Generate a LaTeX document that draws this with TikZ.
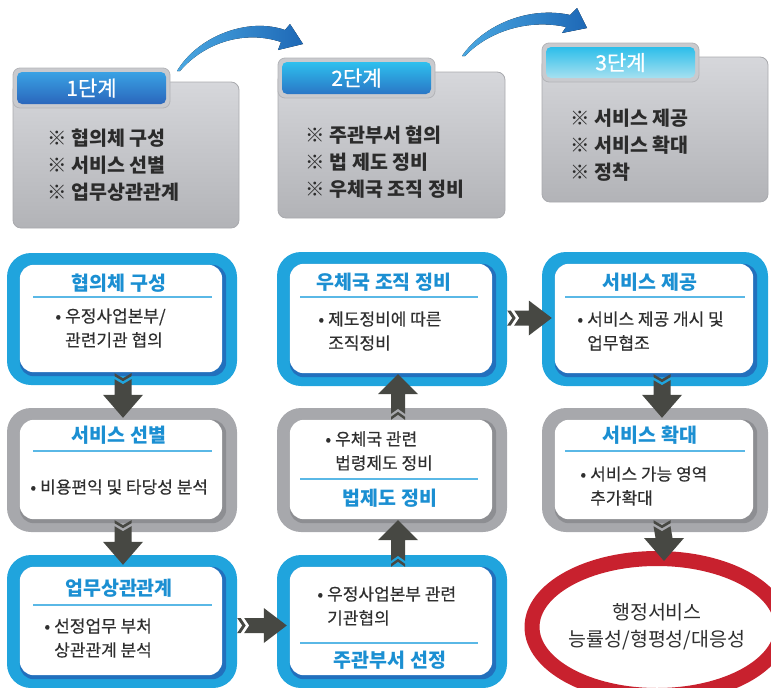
\documentclass[tikz,border=0pt]{standalone}
\usepackage{fontspec}
\setmainfont{Noto Sans CJK KR}
\newfontfamily\bodyfont[FakeBold=0.35]{Noto Sans CJK KR}
\newfontfamily\tabfont[FakeBold=0.6]{Noto Sans CJK KR}
\usetikzlibrary{calc,shapes.geometric}
\definecolor{bluemain}{HTML}{20A4DD}
\definecolor{bluedark}{HTML}{2270BD}
\definecolor{graymain}{HTML}{A7A8AC}
\definecolor{graydark}{HTML}{8D8E92}
\definecolor{titleblue}{HTML}{1B8FD2}
\definecolor{sepblue}{HTML}{5AB8E6}
\definecolor{bodytext}{HTML}{2F2F2F}
\definecolor{blkarrow}{HTML}{474843}
\definecolor{goalred}{HTML}{C8212E}
\definecolor{stagetop}{HTML}{D6D7DB}
\definecolor{stagebot}{HTML}{B2B3B7}
\definecolor{stageline}{HTML}{A9AAAE}
\definecolor{tabgray}{HTML}{C9CACE}
\definecolor{tabline}{HTML}{B3B4B8}
\definecolor{curvelight}{HTML}{4AA8E2}
\definecolor{curvedark}{HTML}{1E68B6}
\definecolor{stagetext}{HTML}{2B2B2B}
\definecolor{tabAtop}{HTML}{3AA2E4}
\definecolor{tabAbot}{HTML}{2A66BC}
\definecolor{tabBtop}{HTML}{2EC0EE}
\definecolor{tabBbot}{HTML}{2A76C6}
\definecolor{tabCtop}{HTML}{2CBEEA}
\definecolor{tabCbot}{HTML}{A6E0F0}

\newcommand\flowbox[7]{%
  \node[inner sep=0pt, minimum width=#4, minimum height=#5, fill=#6, rounded corners=24] (#1) at (#2,#3) {};
  \fill[#7, rounded corners=14] ($(#1.north west)+(13,12)$) rectangle ($(#1.south east)+(-11,-9)$);
  \fill[white, rounded corners=14] ($(#1.north west)+(13,12)$) rectangle ($(#1.south east)+(-15,-13)$);
}
\newcommand\arrdown[3]{%
  \coordinate (s) at ($(#1.south)+(#3,0)$);
  \coordinate (e) at ($(#2.north)+(#3,0)$);
  \fill[blkarrow] ($(s)+(-8.5,-12)$) -- ($(s)+(0,-7)$) -- ($(s)+(8.5,-12)$) -- ($(s)+(8.5,-9)$) -- ($(s)+(0,-4)$) -- ($(s)+(-8.5,-9)$) -- cycle;
  \fill[blkarrow] ($(s)+(-8.5,-6)$) -- ($(s)+(0,-1)$) -- ($(s)+(8.5,-6)$) -- ($(e)+(8.5,-13)$) -- ($(e)+(20,-13)$) -- ($(e)+(0,10)$) -- ($(e)+(-20,-13)$) -- ($(e)+(-8.5,-13)$) -- cycle;
}
\newcommand\arrup[3]{%
  \coordinate (s) at ($(#1.north)+(#3,0)$);
  \coordinate (e) at ($(#2.south)+(#3,0)$);
  \fill[blkarrow] ($(s)+(-7,12)$) -- ($(s)+(0,7)$) -- ($(s)+(7,12)$) -- ($(s)+(7,9)$) -- ($(s)+(0,4)$) -- ($(s)+(-7,9)$) -- cycle;
  \fill[blkarrow] ($(s)+(-7,6)$) -- ($(s)+(0,1)$) -- ($(s)+(7,6)$) -- ($(e)+(7,8)$) -- ($(e)+(20,8)$) -- ($(e)+(0,-12)$) -- ($(e)+(-20,8)$) -- ($(e)+(-7,8)$) -- cycle;
}
\newcommand\arrright[3]{%
  \coordinate (s) at ($(#1.east)+(0,#3)$);
  \coordinate (e) at ($(#2.west)+(0,#3)$);
  \fill[blkarrow] ($(s)+(0,-7.5)$) -- ($(s)+(5,0)$) -- ($(s)+(0,7.5)$) -- ($(s)+(3.5,7.5)$) -- ($(s)+(8.5,0)$) -- ($(s)+(3.5,-7.5)$) -- cycle;
  \fill[blkarrow] ($(s)+(7,-7.5)$) -- ($(s)+(12,0)$) -- ($(s)+(7,7.5)$) -- ($(e)+(-13,7.5)$) -- ($(e)+(-13,17.5)$) -- ($(e)+(10,0)$) -- ($(e)+(-13,-17.5)$) -- ($(e)+(-13,-7.5)$) -- cycle;
}

\begin{document}
\begin{tikzpicture}[x=1pt,y=-1pt,
  stagebody/.style={inner sep=0pt, rounded corners=8, top color=stagetop, bottom color=stagebot, draw=stageline, line width=0.8pt},
  tabouter/.style={inner sep=0pt, rounded corners=7, fill=tabgray, draw=tabline, line width=0.8pt, minimum width=157, minimum height=40},
  tabinner/.style={inner sep=0pt, rounded corners=5, minimum width=149, minimum height=32, text=white, font=\tabfont\fontsize{21}{22}\selectfont},
  stageitems/.style={anchor=west, align=left, inner sep=0pt, text=stagetext, font=\fontsize{19.5}{27}\selectfont\bfseries},
  ftitle/.style={inner sep=0pt, text=titleblue, font=\fontsize{19.5}{21}\selectfont\bfseries},
  fbody/.style={anchor=west, align=left, inner sep=0pt, text=bodytext, font=\bodyfont\fontsize{17}{24}\selectfont},
  sepline/.style={draw=sepblue, line width=1.2pt}]
\useasboundingbox (0,0) rectangle (771,688);
\clip (0,0) rectangle (771,688);

% ---------- stage boxes ----------
\node[stagebody, minimum width=226, minimum height=146] (s1) at (126,155) {};
\node[tabouter] (t1o) at (91.5,88) {};
\node[tabinner, top color=tabAtop, bottom color=tabAbot] (t1) at (t1o) {1단계};
\node[stageitems] (s1txt) at (47,165) {※\hspace{5pt}협의체 구성\\※\hspace{5pt}서비스 선별\\※\hspace{5pt}업무상관관계};

\node[stagebody, minimum width=227, minimum height=146] (s2) at (391.5,145) {};
\node[tabouter] (t2o) at (356.5,78) {};
\node[tabinner, top color=tabBtop, bottom color=tabBbot] (t2) at (t2o) {2단계};
\node[stageitems] (s2txt) at (305,162) {※\hspace{5pt}주관부서 협의\\※\hspace{5pt}법 제도 정비\\※\hspace{5pt}우체국 조직 정비};

\node[stagebody, minimum width=226, minimum height=145] (s3) at (655,129.5) {};
\node[tabouter, minimum height=39] (t3o) at (620.5,62.5) {};
\node[tabinner, minimum height=31, top color=tabCtop, bottom color=tabCbot] (t3) at (t3o) {3단계};
\node[stageitems] (s3txt) at (570,145) {※\hspace{5pt}서비스 제공\\※\hspace{5pt}서비스 확대\\※\hspace{5pt}정착};

% ---------- curved arrows ----------
\fill[left color=curvelight, right color=curvedark]
  (177,71) .. controls (198,36) and (248,17) .. (285,30) -- (290,24) -- (303,44) -- (278,50) -- (281,42)
  .. controls (245,30) and (205,42) .. (180,71) -- cycle;
\fill[left color=curvelight, right color=curvedark]
  (462,56) .. controls (484,24) and (530,6) .. (570,15) -- (577,8) -- (587,28) -- (562,33) -- (566,27)
  .. controls (530,19) and (490,30) .. (465,56) -- cycle;

% ---------- flow boxes ----------
\flowbox{A}{122}{319}{230}{132}{bluemain}{bluedark}
\flowbox{B}{122}{470}{230}{124}{graymain}{graydark}
\flowbox{C}{122}{621.5}{230}{133}{bluemain}{bluedark}
\flowbox{D}{392}{319}{230}{134}{bluemain}{bluedark}
\flowbox{E}{392}{470}{230}{124}{graymain}{graydark}
\flowbox{F}{392}{621.5}{230}{133}{bluemain}{bluedark}
\flowbox{G}{655}{319}{226}{134}{bluemain}{bluedark}
\flowbox{H}{655}{470}{226}{124}{graymain}{graydark}

% goal ellipse
\node[ellipse, draw=goalred, line width=15pt, fill=white, minimum width=223, minimum height=137, inner sep=0pt,
      align=center, text=bodytext, font=\fontsize{19.5}{27}\selectfont] (goal) at (657,627) {행정서비스\\능률성/형평성/대응성};

% titles and separators
\node[ftitle] (Atitle) at (119,283) {협의체 구성};
\draw[sepline] (33,297) -- (212,297);
\node[fbody] (Abody) at (65,328) {\llap{•\hspace{4pt}}우정사업본부/\\관련기관 협의};

\node[ftitle] (Btitle) at (119,435) {서비스 선별};
\draw[sepline] (33,451) -- (212,451);
\node[fbody] (Bbody) at (40,487) {\llap{•\hspace{4pt}}비용편익 및 타당성 분석};

\node[ftitle] (Ctitle) at (119,588) {업무상관관계};
\draw[sepline] (33,605) -- (212,605);
\node[fbody] (Cbody) at (54,638) {\llap{•\hspace{4pt}}선정업무 부처\\상관관계 분석};

\node[ftitle] (Dtitle) at (384,282) {우체국 조직 정비};
\draw[sepline] (300,297) -- (478,297);
\node[fbody] (Dbody) at (328,331) {\llap{•\hspace{4pt}}제도정비에 따른\\조직정비};

\node[fbody] (Ebody) at (335,451) {\llap{•\hspace{4pt}}우체국 관련\\법령제도 정비};
\draw[sepline] (300,479) -- (478,479);
\node[ftitle] (Etitle) at (390,498) {법제도 정비};

\node[fbody] (Fbody) at (327,606) {\llap{•\hspace{4pt}}우정사업본부 관련\\기관협의};
\draw[sepline] (300,643) -- (478,643);
\node[ftitle] (Ftitle) at (390,660) {주관부서 선정};

\node[ftitle] (Gtitle) at (650,282) {서비스 제공};
\draw[sepline] (565,297) -- (745,297);
\node[fbody] (Gbody) at (587,331) {\llap{•\hspace{4pt}}서비스 제공 개시 및\\업무협조};

\node[ftitle] (Htitle) at (650,435) {서비스 확대};
\draw[sepline] (565,451) -- (745,451);
\node[fbody] (Hbody) at (590,486) {\llap{•\hspace{4pt}}서비스 가능 영역\\추가확대};

% ---------- block arrows ----------
\arrdown{A}{B}{1}
\arrdown{B}{C}{1}
\arrright{C}{F}{4}
\arrup{F}{E}{6}
\arrup{E}{D}{6}
\arrright{D}{G}{-1}
\arrdown{G}{H}{7}
\arrdown{H}{goal}{7}
\end{tikzpicture}
\end{document}
